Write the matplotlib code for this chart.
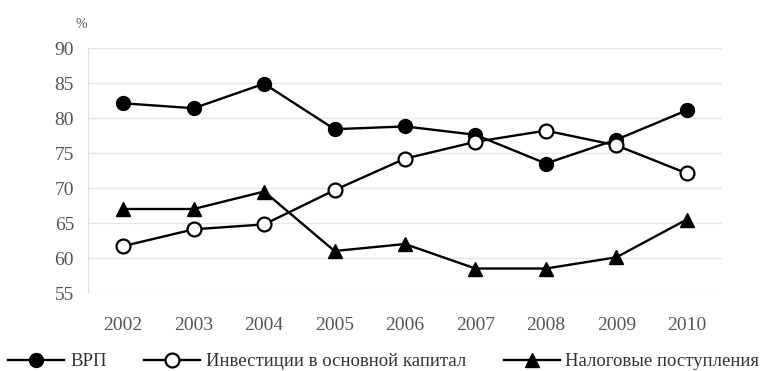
import matplotlib
matplotlib.use("Agg")
import matplotlib.pyplot as plt

years = ["2002", "2003", "2004", "2005", "2006", "2007", "2008", "2009", "2010"]
grp = [82.1, 81.4, 84.9, 78.4, 78.8, 77.6, 73.5, 76.9, 81.1]
investment = [61.7, 64.1, 64.8, 69.7, 74.2, 76.6, 78.2, 76.1, 72.1]
tax = [67.0, 67.0, 69.5, 61.0, 62.0, 58.5, 58.5, 60.1, 65.5]
y_ticks = [55, 60, 65, 70, 75, 80, 85, 90]
labels = ["ВРП", "Инвестиции в основной капитал", "Налоговые поступления"]

plt.rcParams["font.family"] = ["Liberation Serif", "DejaVu Serif"]

fig = plt.figure(figsize=(7.6, 3.71), dpi=100)
ax = fig.add_axes([0.1158, 0.2102, 0.8342, 0.6604])

x = list(range(len(years)))
lw = 1.7
ms = 10
h1, = ax.plot(x, grp, color="black", lw=lw, marker="o", ms=ms,
              mfc="black", mec="black", zorder=3)
h2, = ax.plot(x, investment, color="black", lw=lw, marker="o", ms=ms,
              mfc="white", mec="black", mew=1.6, zorder=3)
h3, = ax.plot(x, tax, color="black", lw=lw, marker="^", ms=ms,
              mfc="black", mec="black", zorder=3)

ax.set_xlim(-0.5, len(years) - 0.5)
ax.set_ylim(55, 90)
ax.set_xticks(x)
ax.set_xticklabels(years)
ax.set_yticks(y_ticks)
ax.tick_params(axis="both", length=0, labelsize=14, colors="#555555")
ax.tick_params(axis="x", pad=17)
ax.tick_params(axis="y", pad=10)
ax.grid(axis="y", color="#e6e6e6", lw=1.0)
ax.set_axisbelow(True)
for side in ["top", "right", "bottom"]:
    ax.spines[side].set_visible(False)
ax.spines["left"].set_color("#e0e0e0")

fig.text(0.107, 0.935, "%", fontsize=10, color="#555555", ha="center", va="center")

fig.legend([h1, h2, h3], labels, loc="center", bbox_to_anchor=(0.505, 0.025),
           ncol=3, frameon=False, fontsize=13.5, handlelength=3.0,
           columnspacing=2.0, handletextpad=0.3, labelcolor="#333333")

fig.savefig("out.png", dpi=100)
